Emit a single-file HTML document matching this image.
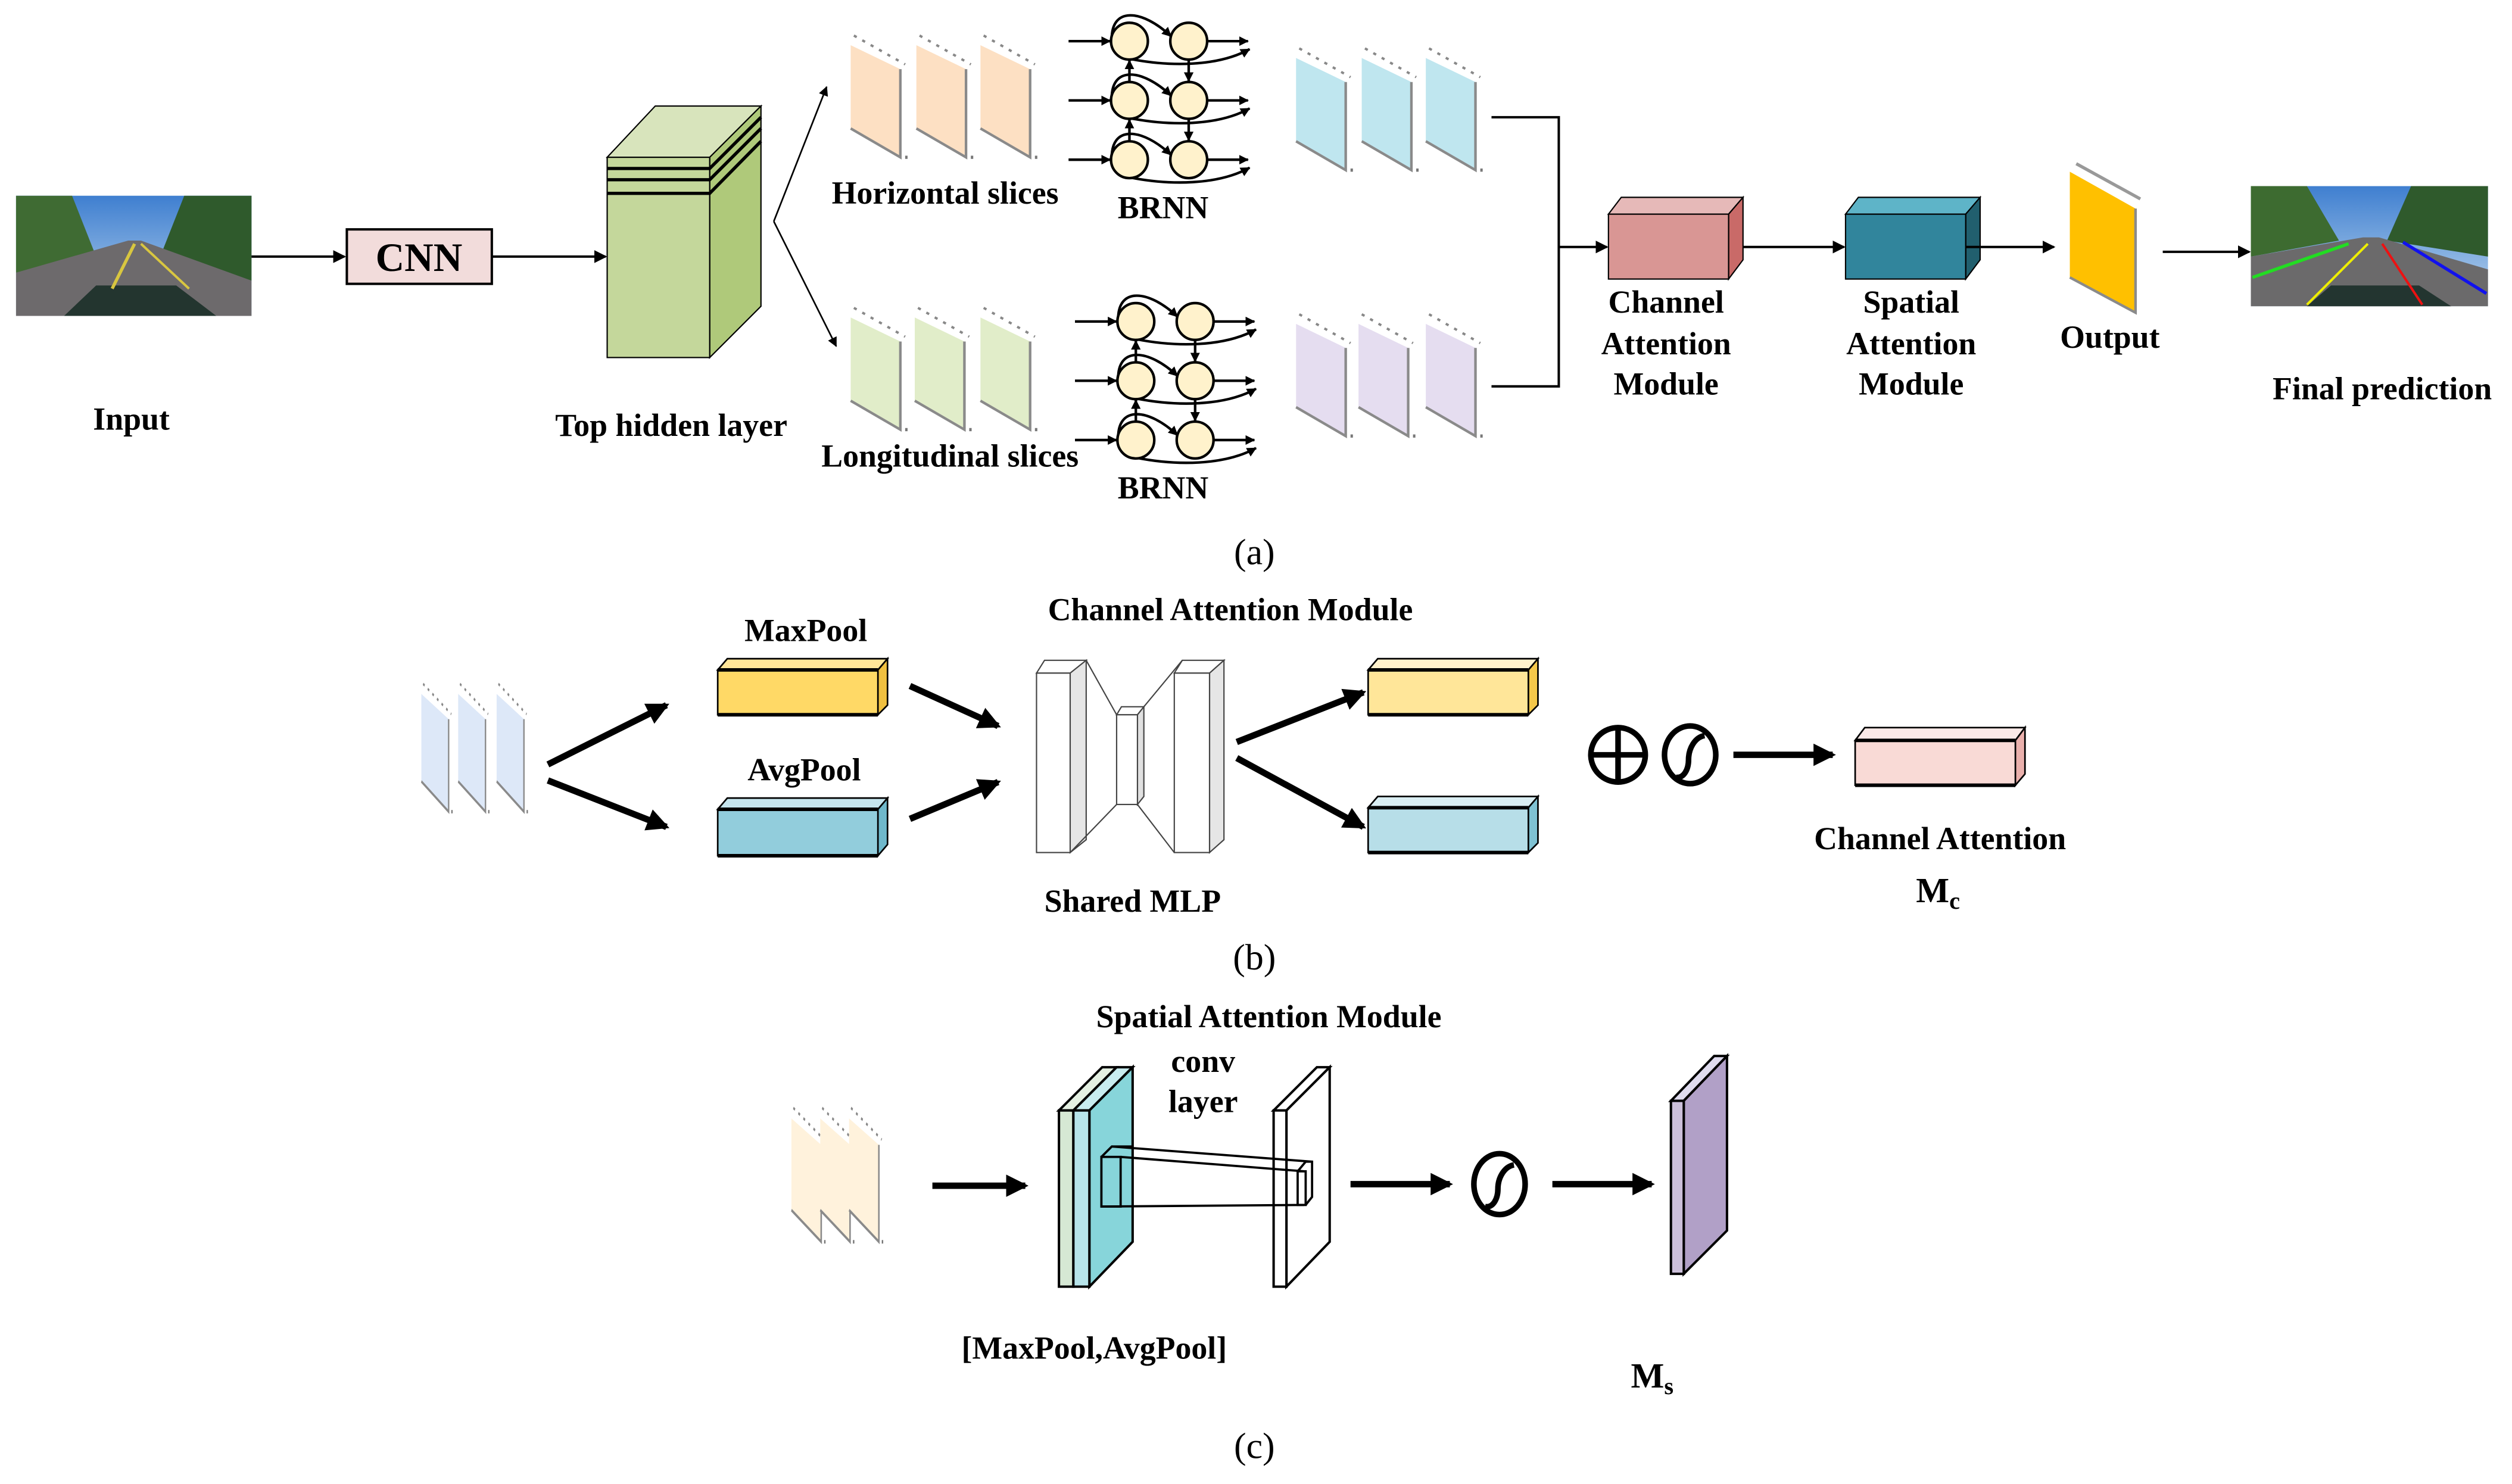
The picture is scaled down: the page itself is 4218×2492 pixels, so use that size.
<!DOCTYPE html>
<html><head><meta charset="utf-8">
<style>
html,body{margin:0;padding:0;background:#fff;}
svg{display:block;}
text{font-family:"Liberation Serif",serif;font-weight:bold;fill:#000;}
</style></head><body>
<svg width="4218" height="2492" viewBox="0 0 1568 926" xmlns="http://www.w3.org/2000/svg">
<defs>
<marker id="ah" markerWidth="8" markerHeight="8" refX="7" refY="4" orient="auto" markerUnits="userSpaceOnUse"><path d="M0,0 L8,4 L0,8 Z" fill="#000"/></marker>
<marker id="ahs" markerWidth="6" markerHeight="6" refX="5.5" refY="3" orient="auto" markerUnits="userSpaceOnUse"><path d="M0,0 L6,3 L0,6 Z" fill="#000"/></marker>
<marker id="ahb" markerWidth="14" markerHeight="14" refX="12" refY="7" orient="auto" markerUnits="userSpaceOnUse"><path d="M0,0 L14,7 L0,14 Z" fill="#000"/></marker>
<g id="brnn" stroke="#000" stroke-width="1.6" fill="none">
  <line x1="-38" y1="0" x2="-12" y2="0" marker-end="url(#ahs)"/>
  <line x1="-38" y1="37" x2="-12" y2="37" marker-end="url(#ahs)"/>
  <line x1="-38" y1="74" x2="-12" y2="74" marker-end="url(#ahs)"/>
  <line x1="49" y1="0" x2="74" y2="0" marker-end="url(#ahs)"/>
  <line x1="49" y1="37" x2="74" y2="37" marker-end="url(#ahs)"/>
  <line x1="49" y1="74" x2="74" y2="74" marker-end="url(#ahs)"/>
  <path d="M-11,0 C-12,-22 8,-20 26,-3" marker-end="url(#ahs)"/>
  <path d="M-11,37 C-12,15 8,17 26,34" marker-end="url(#ahs)"/>
  <path d="M-11,74 C-12,52 8,54 26,71" marker-end="url(#ahs)"/>
  <path d="M0,11 C25,16 55,16 75,5" marker-end="url(#ahs)"/>
  <path d="M0,48 C25,53 55,53 75,42" marker-end="url(#ahs)"/>
  <path d="M0,85 C25,90 55,90 75,79" marker-end="url(#ahs)"/>
  <line x1="0" y1="26" x2="0" y2="12" marker-end="url(#ahs)"/>
  <line x1="0" y1="63" x2="0" y2="49" marker-end="url(#ahs)"/>
  <line x1="37" y1="12" x2="37" y2="25" marker-end="url(#ahs)"/>
  <line x1="37" y1="49" x2="37" y2="62" marker-end="url(#ahs)"/>
  <g fill="#fff2cc">
  <circle cx="0" cy="0" r="11.5"/><circle cx="37" cy="0" r="11.5"/>
  <circle cx="0" cy="37" r="11.5"/><circle cx="37" cy="37" r="11.5"/>
  <circle cx="0" cy="74" r="11.5"/><circle cx="37" cy="74" r="11.5"/>
  </g>
</g>
<g id="slice">
  <path d="M2,-6 L34,12" stroke="#888" stroke-width="1.5" stroke-dasharray="2,4" fill="none"/>
  <polygon points="0,0 31,15 31,70 0,52"/>
  <polyline points="31,15 31,70 0,52" fill="none" stroke="#8a8a8a" stroke-width="1.6"/>
  <rect x="34" y="69" width="1.5" height="2" fill="#777"/>
</g>
<linearGradient id="sky" x1="0" y1="0" x2="0" y2="1"><stop offset="0" stop-color="#3f7fd0"/><stop offset="1" stop-color="#bcd6ee"/></linearGradient>
</defs>

<!-- ===== (a) ===== -->
<g>
<rect x="10" y="122" width="147" height="75" fill="url(#sky)"/>
<polygon points="10,122 45,122 60,160 10,170" fill="#3f6b33"/>
<polygon points="157,122 115,122 100,160 157,175" fill="#2f5a2c"/>
<polygon points="10,170 80,150 88,150 157,175 157,197 10,197" fill="#6d6a6c"/>
<polygon points="40,197 60,178 110,178 135,197" fill="#23352f"/>
<line x1="84" y1="152" x2="70" y2="180" stroke="#d8c640" stroke-width="2"/>
<line x1="88" y1="152" x2="118" y2="180" stroke="#d8c640" stroke-width="1.5"/>
</g>
<line x1="157" y1="160" x2="215" y2="160" stroke="#000" stroke-width="1.5" marker-end="url(#ah)"/>
<rect x="216.5" y="143" width="90.5" height="34" fill="#f2dcdb" stroke="#000" stroke-width="1.5"/>
<text x="261.5" y="169" font-size="25" text-anchor="middle">CNN</text>
<line x1="307" y1="160" x2="378" y2="160" stroke="#000" stroke-width="1.5" marker-end="url(#ah)"/>
<g stroke="#000" stroke-width="0.8">
<polygon points="379,98 409,66 475,66 443,98" fill="#d8e4bc"/>
<polygon points="443,98 475,66 475,191 443,223" fill="#afc97a"/>
<rect x="379" y="98" width="64" height="125" fill="#c4d79b"/>
</g>
<g stroke="#000" stroke-width="2">
<polyline points="379,105 443,105 475,73" fill="none"/>
<polyline points="379,112 443,112 475,80" fill="none"/>
<polyline points="379,120.5 443,120.5 475,88" fill="none"/>
</g>
<line x1="483" y1="138" x2="516" y2="54" stroke="#000" stroke-width="1" marker-end="url(#ahs)"/>
<line x1="483" y1="138" x2="522" y2="216" stroke="#000" stroke-width="1" marker-end="url(#ahs)"/>
<g fill="#fde0c3"><use href="#slice" x="531" y="28"/><use href="#slice" x="572" y="28"/><use href="#slice" x="612" y="28"/></g>
<g fill="#e1edc9"><use href="#slice" x="531" y="198"/><use href="#slice" x="571" y="198"/><use href="#slice" x="612" y="198"/></g>
<g fill="#bfe6ef"><use href="#slice" x="809" y="36"/><use href="#slice" x="850" y="36"/><use href="#slice" x="890" y="36"/></g>
<g fill="#e5ddf0"><use href="#slice" x="809" y="202"/><use href="#slice" x="848" y="202"/><use href="#slice" x="890" y="202"/></g>
<use href="#brnn" x="705" y="25.5"/>
<use href="#brnn" x="709" y="200.5"/>
<text x="590" y="127" font-size="20" text-anchor="middle">Horizontal slices</text>
<text x="726" y="136" font-size="20" text-anchor="middle">BRNN</text>
<text x="593" y="291" font-size="20" text-anchor="middle">Longitudinal slices</text>
<text x="726" y="311" font-size="20" text-anchor="middle">BRNN</text>
<text x="82" y="268" font-size="20" text-anchor="middle">Input</text>
<text x="419" y="272" font-size="20" text-anchor="middle">Top hidden layer</text>
<polyline points="931,73 973,73 973,241 931,241" fill="none" stroke="#000" stroke-width="1.5"/>
<line x1="973" y1="154" x2="1003" y2="154" stroke="#000" stroke-width="1.5" marker-end="url(#ah)"/>
<g stroke="#000" stroke-width="0.8">
<polygon points="1004,133.5 1012,123 1088,123 1079,133.5" fill="#e6b9b8"/>
<polygon points="1079,133.5 1088,123 1088,162 1079,174" fill="#c0504d" fill-opacity="0.85"/>
<rect x="1004" y="133.5" width="75" height="40.5" fill="#d99694"/>
</g>
<line x1="1088" y1="154" x2="1151" y2="154" stroke="#000" stroke-width="1.5" marker-end="url(#ah)"/>
<g stroke="#000" stroke-width="0.8">
<polygon points="1152,133.5 1160,123 1236,123 1227,133.5" fill="#5eb4c8"/>
<polygon points="1227,133.5 1236,123 1236,162 1227,174" fill="#215f6e"/>
<rect x="1152" y="133.5" width="75" height="40.5" fill="#31859c"/>
</g>
<line x1="1227" y1="154" x2="1282" y2="154" stroke="#000" stroke-width="1.5" marker-end="url(#ah)"/>
<path d="M1296,102 L1336,124" stroke="#999" stroke-width="2" fill="none"/>
<polygon points="1292,107 1333,130 1333,195 1292,173" fill="#ffc000"/>
<polyline points="1333,130 1333,195 1292,173" fill="none" stroke="#8a8a8a" stroke-width="1.6"/>
<line x1="1350" y1="157" x2="1404" y2="157" stroke="#000" stroke-width="1.5" marker-end="url(#ah)"/>
<g>
<rect x="1405" y="116" width="148" height="75" fill="url(#sky)"/>
<polygon points="1405,116 1440,116 1460,150 1405,160" fill="#3d6b30"/>
<polygon points="1553,116 1505,116 1490,150 1553,160" fill="#2f5a2c"/>
<polygon points="1405,160 1475,148 1485,148 1553,168 1553,191 1405,191" fill="#6b6a6b"/>
<polygon points="1440,191 1455,178 1510,178 1530,191" fill="#233530"/>
<line x1="1406" y1="173" x2="1466" y2="152" stroke="#22dd22" stroke-width="2"/>
<line x1="1440" y1="190" x2="1478" y2="152" stroke="#eeee00" stroke-width="1.5"/>
<line x1="1487" y1="152" x2="1512" y2="190" stroke="#ee1111" stroke-width="1.5"/>
<line x1="1500" y1="151" x2="1552" y2="183" stroke="#1111ee" stroke-width="2"/>
</g>
<text x="1040" y="195" font-size="20" text-anchor="middle">Channel</text>
<text x="1040" y="221" font-size="20" text-anchor="middle">Attention</text>
<text x="1040" y="246" font-size="20" text-anchor="middle">Module</text>
<text x="1193" y="195" font-size="20" text-anchor="middle">Spatial</text>
<text x="1193" y="221" font-size="20" text-anchor="middle">Attention</text>
<text x="1193" y="246" font-size="20" text-anchor="middle">Module</text>
<text x="1317" y="217" font-size="20" text-anchor="middle">Output</text>
<text x="1487" y="249" font-size="20" text-anchor="middle">Final prediction</text>
<text x="783" y="352" font-size="23" style="font-weight:normal" text-anchor="middle">(a)</text>

<!-- ===== (b) ===== -->
<g fill="#dde8f8">
<use href="#slice" transform="translate(263,433) scale(0.55,1.05)"/>
<use href="#slice" transform="translate(286,433) scale(0.55,1.05)"/>
<use href="#slice" transform="translate(310,433) scale(0.55,1.05)"/>
</g>
<g stroke="#000" stroke-width="4" fill="none">
<line x1="342" y1="477" x2="416" y2="440" marker-end="url(#ahb)"/>
<line x1="342" y1="487" x2="416" y2="516" marker-end="url(#ahb)"/>
<line x1="568" y1="428" x2="623" y2="453" marker-end="url(#ahb)"/>
<line x1="568" y1="511" x2="623" y2="488" marker-end="url(#ahb)"/>
<line x1="772" y1="463" x2="851" y2="432" marker-end="url(#ahb)"/>
<line x1="772" y1="473" x2="851" y2="516" marker-end="url(#ahb)"/>
<line x1="1082" y1="471" x2="1144" y2="471" marker-end="url(#ahb)"/>
</g>
<g stroke="#000" stroke-width="1">
<polygon points="448,418 454,411 554,411 548,418" fill="#ffe699"/>
<polygon points="548,418 554,411 554,440 548,446" fill="#f0c040"/>
<rect x="448" y="418" width="100" height="28" fill="#ffd966"/>
<polygon points="448,505 454,498 554,498 548,505" fill="#c5e5ee"/>
<polygon points="548,505 554,498 554,527 548,534" fill="#6fb8cb"/>
<rect x="448" y="505" width="100" height="29" fill="#92cddc"/>
<polygon points="854,418 860,411 960,411 954,418" fill="#fff2cc"/>
<polygon points="954,418 960,411 960,440 954,446" fill="#f5c84a"/>
<rect x="854" y="418" width="100" height="28" fill="#ffe699"/>
<polygon points="854,504 860,497 960,497 954,504" fill="#daeef3"/>
<polygon points="954,504 960,497 960,526 954,532" fill="#7fc2d3"/>
<rect x="854" y="504" width="100" height="28" fill="#b7dee8"/>
<polygon points="1158,462 1164,454 1264,454 1258,462" fill="#fbe9e7"/>
<polygon points="1258,462 1264,454 1264,483 1258,490" fill="#eab0ac"/>
<rect x="1158" y="462" width="100" height="28" fill="#f9dad6"/>
</g>
<g stroke="#000" stroke-width="2.2">
<line x1="448" y1="418" x2="548" y2="418"/><line x1="448" y1="446" x2="548" y2="446"/>
<line x1="448" y1="505" x2="548" y2="505"/><line x1="448" y1="534" x2="548" y2="534"/>
<line x1="854" y1="418" x2="954" y2="418"/><line x1="854" y1="446" x2="954" y2="446"/>
<line x1="854" y1="504" x2="954" y2="504"/><line x1="854" y1="532" x2="954" y2="532"/>
<line x1="1158" y1="462" x2="1258" y2="462"/><line x1="1158" y1="490" x2="1258" y2="490"/>
</g>
<g stroke="#444" stroke-width="0.8">
<polygon points="647,420 652,412 678,412 668,420" fill="#fff"/>
<polygon points="668,420 678,412 678,524 668,532" fill="#e6e6e6"/>
<rect x="647" y="420" width="21" height="112" fill="#fff"/>
<polygon points="697,446 700,441 714,441 710,446" fill="#fff"/>
<polygon points="710,446 714,441 714,497 710,502" fill="#e0e0e0"/>
<rect x="697" y="446" width="13" height="56" fill="#fff"/>
<polygon points="733,420 738,412 764,412 755,420" fill="#fff"/>
<polygon points="755,420 764,412 764,524 755,532" fill="#e6e6e6"/>
<rect x="733" y="420" width="22" height="112" fill="#fff"/>
<line x1="678" y1="412" x2="697" y2="446"/><line x1="668" y1="532" x2="697" y2="502"/>
<line x1="714" y1="441" x2="738" y2="412"/><line x1="710" y1="502" x2="733" y2="532"/>
</g>
<g stroke="#000" stroke-width="3.5" fill="none">
<ellipse cx="1010" cy="471" rx="17" ry="17"/>
<line x1="993" y1="471" x2="1027" y2="471"/><line x1="1010" y1="454" x2="1010" y2="488"/>
<ellipse cx="1055" cy="471" rx="16" ry="18"/>
<path d="M1046,485 C1051,486 1054,480 1054,474 C1054,467 1058,460 1064,459"/>
</g>
<text x="768" y="387" font-size="20" text-anchor="middle">Channel Attention Module</text>
<text x="503" y="400" font-size="20" text-anchor="middle">MaxPool</text>
<text x="502" y="487" font-size="20" text-anchor="middle">AvgPool</text>
<text x="707" y="569" font-size="20" text-anchor="middle">Shared MLP</text>
<text x="1211" y="530" font-size="20" text-anchor="middle">Channel Attention</text>
<text x="1196" y="563" font-size="22">M<tspan font-size="15" dy="4">c</tspan></text>
<text x="783" y="605" font-size="23" style="font-weight:normal" text-anchor="middle">(b)</text>

<!-- ===== (c) ===== -->
<g fill="#fff2dc">
<use href="#slice" transform="translate(494,698) scale(0.6,1.1)"/>
<use href="#slice" transform="translate(512,698) scale(0.6,1.1)"/>
<use href="#slice" transform="translate(530,698) scale(0.6,1.1)"/>
</g>
<g stroke="#000" stroke-width="4" fill="none">
<line x1="582" y1="740" x2="640" y2="740" marker-end="url(#ahb)"/>
<line x1="843" y1="739" x2="905" y2="739" marker-end="url(#ahb)"/>
<line x1="969" y1="739" x2="1031" y2="739" marker-end="url(#ahb)"/>
</g>
<g stroke="#000" stroke-width="1.5">
<polygon points="661,693 688,666 697,666 670,693" fill="#e4f0e2"/>
<rect x="661" y="693" width="9" height="110" fill="#d6e8d4"/>
<polygon points="670,693 697,666 707,666 680,693" fill="#c8ecef"/>
<polygon points="680,693 707,666 707,775 680,803" fill="#87d5da"/>
<rect x="670" y="693" width="10" height="110" fill="#b7e4ea"/>
<polygon points="795,693 822,666 830,666 803,693" fill="#fff"/>
<polygon points="803,693 830,666 830,775 803,803" fill="#fff"/>
<rect x="795" y="693" width="8" height="110" fill="#fff"/>
</g>
<g stroke="#000" stroke-width="1.4" fill="none">
<rect x="687.5" y="722" width="12" height="31"/>
<polyline points="687.5,722 694,715.5 707,715.5"/>
<line x1="694" y1="715.5" x2="819" y2="725"/>
<line x1="699.5" y1="722" x2="814" y2="731"/>
<line x1="687.5" y1="753" x2="814" y2="752"/>
<rect x="810" y="731" width="5" height="21"/>
<polyline points="810,731 815,725 819,725 819,747 815,752"/>
</g>
<g stroke="#000" stroke-width="3.5" fill="none">
<ellipse cx="936" cy="739" rx="16" ry="19"/>
<path d="M927,753 C932,754 935,748 935,742 C935,735 939,728 945,727"/>
</g>
<g stroke="#000" stroke-width="1.5">
<polygon points="1043,687 1070,659 1078,659 1051,687" fill="#e0dcef"/>
<polygon points="1051,687 1078,659 1078,768 1051,795" fill="#b1a0c7"/>
<rect x="1043" y="687" width="8" height="108" fill="#ccc0da"/>
</g>
<text x="792" y="641" font-size="20" text-anchor="middle">Spatial Attention Module</text>
<text x="751" y="669" font-size="20" text-anchor="middle">conv</text>
<text x="751" y="694" font-size="20" text-anchor="middle">layer</text>
<text x="683" y="848" font-size="20" text-anchor="middle">[MaxPool,AvgPool]</text>
<text x="1018" y="866" font-size="22">M<tspan font-size="15" dy="4">s</tspan></text>
<text x="783" y="910" font-size="23" style="font-weight:normal" text-anchor="middle">(c)</text>
</svg>
</body></html>
